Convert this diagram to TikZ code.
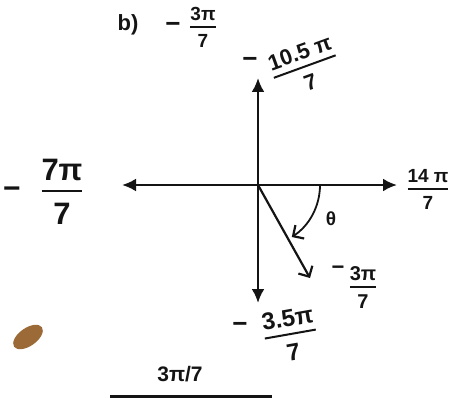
\documentclass[tikz,border=0pt]{standalone}
\usepackage{fontspec}
\setmainfont{Liberation Sans}
\usetikzlibrary{arrows.meta}
\definecolor{inkblack}{HTML}{141414}
\definecolor{smudgebrown}{HTML}{9B6A36}
\setlength{\arrayrulewidth}{2pt}
\newcommand{\hfr}[2]{\begin{tabular}{@{}c@{}}#1\\[-1pt]\hline\rule{0pt}{1.05em}#2\end{tabular}}
\begin{document}
\begin{tikzpicture}[x=1pt,y=-1pt,
  axis/.style={inkblack,line width=2.6pt,-{Latex[length=14pt,width=13pt]}},
  barb/.style={inkblack,line width=2.2pt,-{Straight Barb[length=8pt,width=16pt,line width=2.2pt]}},
  lbl/.style={inkblack,inner sep=0pt}]
\useasboundingbox (0,0) rectangle (457,398); %page size of the scan
\coordinate (O) at (258,185); %origin
\coordinate (E) at (397,185);
\coordinate (W) at (122,185);
\coordinate (N) at (258,78);
\coordinate (S) at (258,303);
\coordinate (R) at (310,278); %tip of the angle ray
\draw[axis] (O) -- (E);
\draw[axis] (O) -- (W);
\draw[axis] (O) -- (N);
\draw[axis] (O) -- (S);
\draw[barb] (O) -- (R);
\draw[barb,line width=1.8pt] (320,185) arc(0:57:62); %angle theta
\node[lbl,font=\bfseries\fontsize{19}{21}\selectfont] (theta) at (331,219) {θ};
% title
\node[lbl,font=\bfseries\fontsize{22}{24}\selectfont] (part) at (128,25) {b)};
\node[lbl,font=\bfseries\fontsize{26}{28}\selectfont] (titleminus) at (173,27) {−};
\node[lbl,font=\bfseries\fontsize{19}{21}\selectfont] (titlefrac) at (203,30) {\hfr{3π}{7}};
% axis labels
\node[lbl,font=\bfseries\fontsize{26}{28}\selectfont] (topminus) at (250,62) {−};
\node[lbl,font=\bfseries\fontsize{22}{24}\selectfont,rotate=20] (topfrac) at (306,70) {\hfr{10.5 π}{7}};
\node[lbl,font=\bfseries\fontsize{30}{32}\selectfont] (leftminus) at (12,193) {−};
\node[lbl,font=\bfseries\fontsize{31}{33}\selectfont] (leftfrac) at (62,196) {\hfr{7π}{7}};
\node[lbl,font=\bfseries\fontsize{19}{21}\selectfont] (rightfrac) at (428,192) {\hfr{14 π}{7}};
\node[lbl,font=\bfseries\fontsize{22}{24}\selectfont] (rayminus) at (338,270) {−};
\node[lbl,font=\bfseries\fontsize{20}{22}\selectfont] (rayfrac) at (363,290) {\hfr{3π}{7}};
\node[lbl,font=\bfseries\fontsize{26}{28}\selectfont] (botminus) at (240,327) {−};
\node[lbl,font=\bfseries\fontsize{24}{26}\selectfont,rotate=10] (botfrac) at (291,338) {\hfr{3.5π}{7}};
% answer line
\node[lbl,font=\bfseries\fontsize{21}{23}\selectfont] (answer) at (180,374) {3π/7};
\draw[inkblack,line width=3pt] (110,396.5) -- (272,396.5);
\fill[smudgebrown,rotate around={-55:(28,337)}] (28,337) ellipse (9 and 17); %smudge on the scan
\end{tikzpicture}
\end{document}
